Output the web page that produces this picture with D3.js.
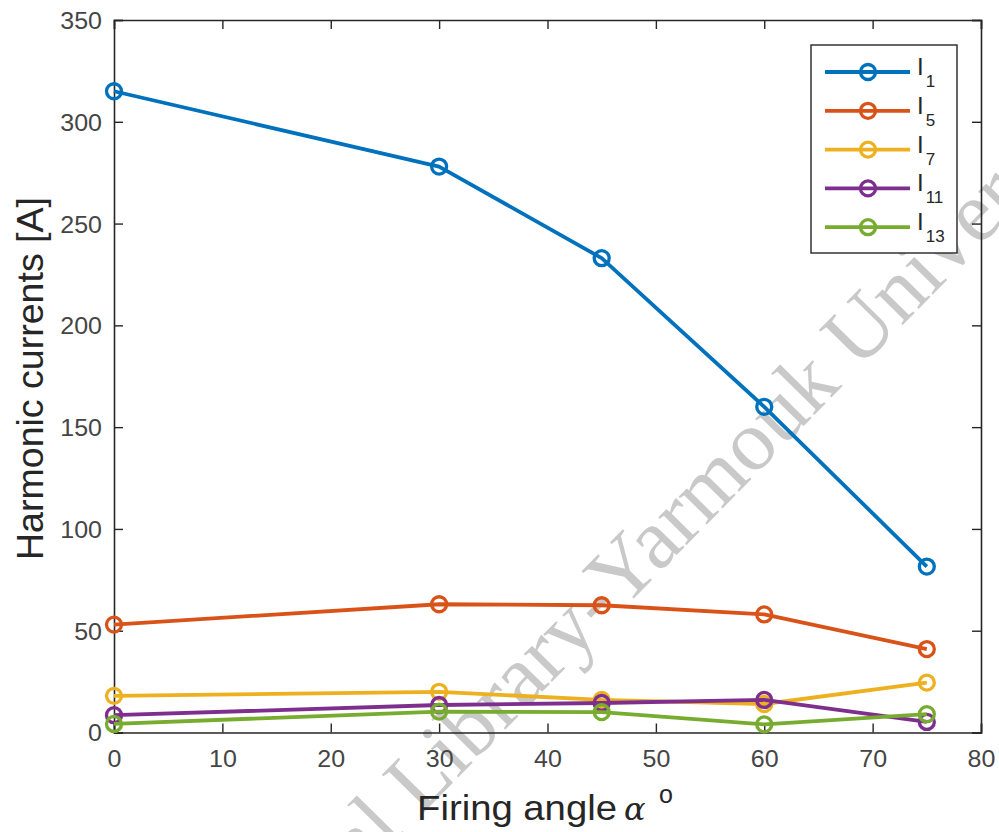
<!DOCTYPE html>
<html>
<head>
<meta charset="utf-8">
<script src="https://cdn.jsdelivr.net/npm/d3@7"></script>
<style>
  html, body { margin: 0; padding: 0; background: #fff; }
  svg { display: block; }
  text { font-family: "Liberation Sans", Arial, Helvetica, sans-serif; }
</style>
</head>
<body>
<svg id="chart" width="999" height="832"></svg>
<script>
// ---- data ----
const angles = [0, 30, 45, 60, 75];
const seriesNames = ["1", "5", "7", "11", "13"];
const I1  = [315, 278, 233, 160, 81.5];
const I5  = [53, 63, 62.5, 58, 41];
const I7  = [18, 20, 16, 14, 24.5];
const I11 = [8.5, 13.5, 14.5, 16, 5.2];
const I13 = [4.2, 10.3, 10, 4, 9];
const xTicks = [0, 10, 20, 30, 40, 50, 60, 70, 80];
const yTicks = [0, 50, 100, 150, 200, 250, 300, 350];
const colors = ["#0072BD", "#D95319", "#EDB120", "#7E2F8E", "#77AC30"];

const seriesValues = [I1, I5, I7, I11, I13];

// ---- layout ----
const svg = d3.select("#chart");
const pL = 114, pR = 981, pT = 20, pB = 732.5;
const x = d3.scaleLinear().domain([0, 80]).range([pL, pR]);
const y = d3.scaleLinear().domain([0, 350]).range([pB, pT]);
const axisColor = "#262626";
const tickColor = "#454545";

// watermark (drawn beneath the data)
const wm = svg.append("g").attr("transform", "translate(601,632) rotate(-45.5)")
  .attr("fill", "#c9c9c9")
  .style("font-size", "86px");
wm.append("text").attr("text-anchor", "end").style("font-family", "'Liberation Serif', 'Times New Roman', serif").text("Digital Library");
wm.append("text").attr("text-anchor", "start").style("font-family", "'Liberation Serif', 'Times New Roman', serif").text("-Yarmouk University");

// axes (inward ticks, MATLAB style box)
const gx = svg.append("g").attr("transform", `translate(0,${pB})`)
  .call(d3.axisBottom(x).tickValues(xTicks).tickSize(-9).tickPadding(18).tickFormat(d3.format("d")));
const gy = svg.append("g").attr("transform", `translate(${pL},0)`)
  .call(d3.axisLeft(y).tickValues(yTicks).tickSize(-9).tickPadding(12).tickFormat(d3.format("d")));
const gt = svg.append("g").attr("transform", `translate(0,${pT})`)
  .call(d3.axisTop(x).tickValues(xTicks).tickSize(-9).tickFormat(""));
const gr = svg.append("g").attr("transform", `translate(${pR},0)`)
  .call(d3.axisRight(y).tickValues(yTicks).tickSize(-9).tickFormat(""));

[gx, gy, gt, gr].forEach(g => {
  g.select(".domain").attr("stroke", axisColor).attr("stroke-width", 1.6);
  g.selectAll(".tick line").attr("stroke", axisColor).attr("stroke-width", 1.4);
  g.selectAll(".tick text").attr("fill", tickColor).style("font-size", "23.5px")
    .attr("textLength", function () { return 13.9 * this.textContent.length; })
    .attr("lengthAdjust", "spacingAndGlyphs");
});
gx.selectAll(".tick text").attr("dy", "0.71em");
gy.selectAll(".tick text").attr("dy", "0.36em");

// series
const line = d3.line().x((d, i) => x(angles[i])).y(d => y(d));
seriesValues.forEach((vals, s) => {
  const g = svg.append("g");
  g.append("path").datum(vals).attr("d", line)
    .attr("fill", "none").attr("stroke", colors[s]).attr("stroke-width", 3.8)
    .attr("stroke-linejoin", "round");
  g.selectAll("circle").data(vals).join("circle")
    .attr("cx", (d, i) => x(angles[i])).attr("cy", d => y(d))
    .attr("r", 7.5).attr("fill", "none").attr("stroke", colors[s]).attr("stroke-width", 3.3);
});

// legend
const lg = svg.append("g");
lg.append("rect").attr("x", 811).attr("y", 45).attr("width", 146).attr("height", 208)
  .attr("fill", "#fff").attr("stroke", axisColor).attr("stroke-width", 1.4);
seriesNames.forEach((name, s) => {
  const cy = 72 + s * 38.8;
  lg.append("line").attr("x1", 825).attr("x2", 910).attr("y1", cy).attr("y2", cy)
    .attr("stroke", colors[s]).attr("stroke-width", 3.8);
  lg.append("circle").attr("cx", 868).attr("cy", cy).attr("r", 7.5)
    .attr("fill", "none").attr("stroke", colors[s]).attr("stroke-width", 3.3);
  const t = lg.append("text").attr("x", 917).attr("y", cy + 3).attr("fill", axisColor)
    .style("font-size", "24px");
  t.append("tspan").text("I");
  t.append("tspan").attr("dx", 2).attr("dy", 12).style("font-size", "17px").text(name);
});

// axis labels
svg.append("text").attr("x", 417).attr("y", 820).attr("fill", axisColor)
  .style("font-size", "35px")
  .attr("textLength", 200).attr("lengthAdjust", "spacingAndGlyphs")
  .text("Firing angle");
svg.append("text").attr("x", 624).attr("y", 820).attr("fill", axisColor)
  .style("font-family", "'DejaVu Serif', 'Liberation Serif', serif")
  .style("font-style", "italic").style("font-size", "32px").text("α");
svg.append("text").attr("x", 659).attr("y", 803).attr("fill", axisColor)
  .style("font-size", "25px").text("o");

svg.append("text").attr("transform", "translate(43,378.5) rotate(-90)")
  .attr("text-anchor", "middle").attr("fill", axisColor).style("font-size", "36px")
  .attr("textLength", 363).attr("lengthAdjust", "spacingAndGlyphs")
  .text("Harmonic currents [A]");
</script>
</body>
</html>
